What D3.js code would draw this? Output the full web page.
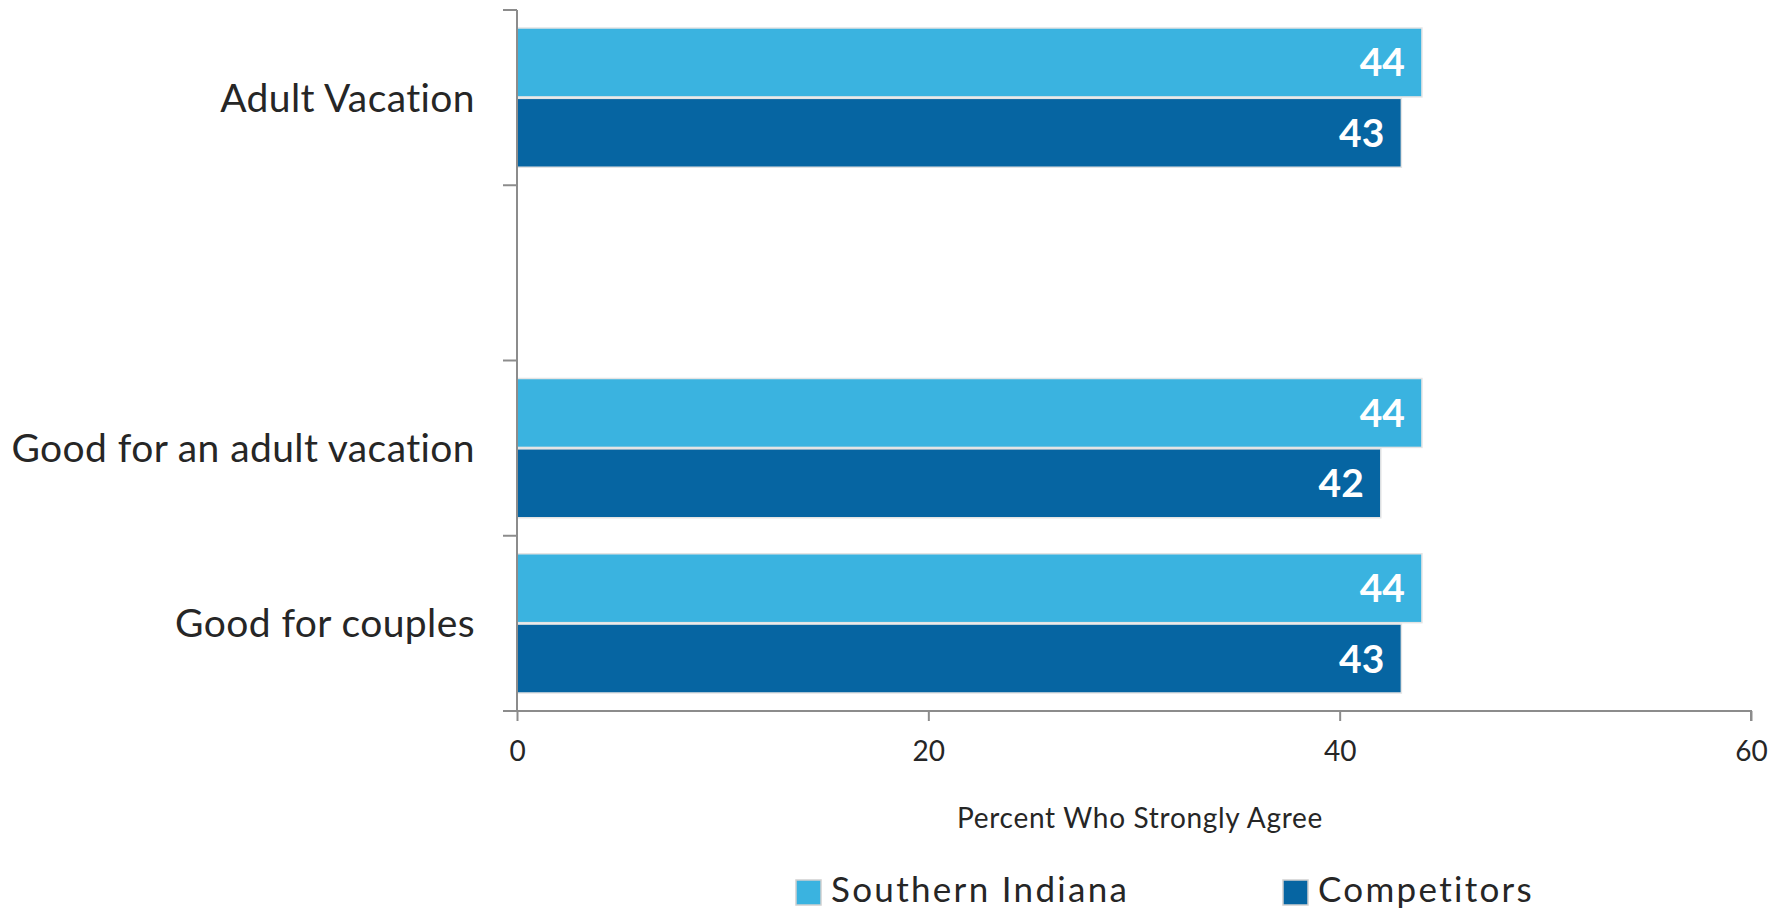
<!DOCTYPE html>
<html>
<head>
<meta charset="utf-8">
<script src="https://cdn.jsdelivr.net/npm/d3@7"></script>
<style>
  html, body { margin: 0; padding: 0; background: #fff; }
  svg { display: block; font-family: Lato, "Open Sans", sans-serif; }
</style>
</head>
<body>
<svg id="chart" width="1782" height="913"></svg>
<script>
// Category rows, top to bottom (second row is an intentional gap)
const categories = ["Adult Vacation", "", "Good for an adult vacation", "Good for couples"];
const seriesNames = ["Southern Indiana", "Competitors"];
const southernIndiana = [44, null, 44, 44];
const competitors = [43, null, 42, 43];
const xTicks = [0, 20, 40, 60];
const xTitle = "Percent Who Strongly Agree";
const colors = ["#3ab3e0", "#0665a2"];

const svg = d3.select("#chart");
const plot = { left: 517, right: 1751, top: 10, bottom: 711 };
const axisColor = "#8c8c8c";
const textColor = "#262626";

const x = d3.scaleLinear().domain([0, 60]).range([plot.left, plot.right]);
const y = d3.scaleBand().domain(d3.range(categories.length)).range([plot.top, plot.bottom]).paddingInner(0).paddingOuter(0);
const sub = d3.scaleBand().domain(d3.range(seriesNames.length)).range([18, y.bandwidth() - 18]).paddingInner(0.02);

const series = [southernIndiana, competitors];
const rows = [];
categories.forEach((c, i) => {
  series.forEach((vals, s) => {
    if (vals[i] != null) rows.push({ cat: i, s, v: vals[i] });
  });
});

// Bars
svg.append("g").selectAll("rect").data(rows).join("rect")
  .attr("x", x(0))
  .attr("y", d => y(d.cat) + sub(d.s))
  .attr("width", d => x(d.v) - x(0))
  .attr("height", sub.bandwidth())
  .attr("fill", d => colors[d.s])
  .attr("stroke", "#e4e4e4")
  .attr("stroke-width", 1.5);

// Value labels inside bar ends
svg.append("g").selectAll("text").data(rows).join("text")
  .attr("x", d => x(d.v) - 17)
  .attr("y", d => y(d.cat) + sub(d.s) + sub.bandwidth() / 2 + 14)
  .attr("text-anchor", "end")
  .attr("fill", "#fff")
  .attr("font-weight", 700)
  .attr("font-size", 39)
  .text(d => d3.format("d")(d.v));

// Y axis: line with ticks at row boundaries
const yAxis = svg.append("g").attr("stroke", axisColor).attr("stroke-width", 2);
yAxis.append("line").attr("x1", x(0)).attr("x2", x(0)).attr("y1", plot.top).attr("y2", plot.bottom);
const boundaries = d3.range(categories.length + 1).map(i => i < categories.length ? y(i) : y(i - 1) + y.bandwidth());
yAxis.selectAll("line.tick").data(boundaries).join("line").attr("class", "tick")
  .attr("x1", x(0) - 14).attr("x2", x(0)).attr("y1", d => d).attr("y2", d => d);

// Category labels
svg.append("g").selectAll("text").data(categories).join("text")
  .attr("x", 475)
  .attr("y", (d, i) => y(i) + y.bandwidth() / 2 + 14)
  .attr("text-anchor", "end")
  .attr("fill", textColor)
  .attr("font-size", 39)
  .attr("letter-spacing", 0.4)
  .text(d => d);

// X axis
const xAxis = svg.append("g").attr("transform", `translate(0,${plot.bottom})`)
  .call(d3.axisBottom(x).tickValues(xTicks).tickSize(10).tickPadding(0).tickFormat(d3.format("d")));
xAxis.select(".domain").attr("stroke", axisColor).attr("stroke-width", 2).attr("d", `M${x(0) - 14},0H${x(60)}V10`);
xAxis.selectAll(".tick line").attr("stroke", axisColor).attr("stroke-width", 2);
xAxis.selectAll(".tick text").attr("fill", textColor).attr("font-size", 28)
  .attr("font-family", "Lato, 'Open Sans', sans-serif").attr("dy", null).attr("y", 50);

// Axis title
svg.append("text").attr("x", 1140).attr("y", 828).attr("text-anchor", "middle")
  .attr("fill", textColor).attr("font-size", 28).attr("letter-spacing", 0.7).text(xTitle);

// Legend
const legendX = [796, 1283];
const legend = svg.append("g").selectAll("g").data(seriesNames).join("g")
  .attr("transform", (d, i) => `translate(${legendX[i]},880)`);
legend.append("rect").attr("width", 25).attr("height", 25)
  .attr("fill", (d, i) => colors[i]).attr("stroke", "#d0d0d0").attr("stroke-width", 1.5);
legend.append("text").attr("x", 35).attr("y", 22).attr("fill", textColor)
  .attr("font-size", 35).attr("letter-spacing", 2.3).text(d => d);
</script>
</body>
</html>
